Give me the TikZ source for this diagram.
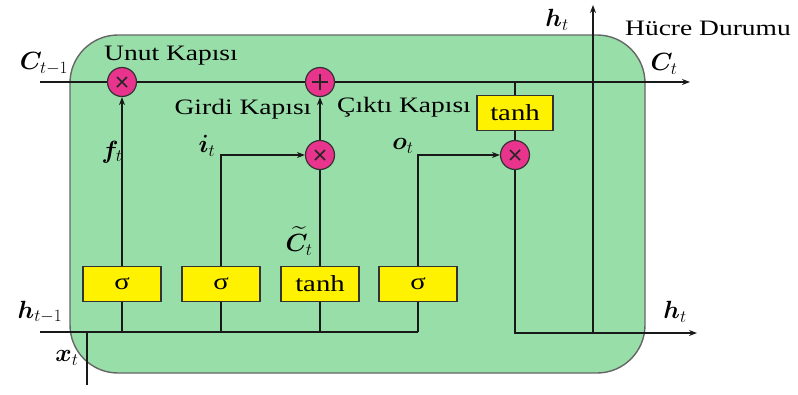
\documentclass[tikz,border=0pt]{standalone}
\usepackage{fontspec}
\usepackage{amsmath,bm}
\setmainfont{Liberation Serif}[FakeStretch=1.25]
\usetikzlibrary{arrows.meta}
\definecolor{cellgreen}{HTML}{98DEA9}
\definecolor{gatepink}{HTML}{E8348C}
\begin{document}
\begin{tikzpicture}[x=1pt,y=-1pt,
  wire/.style={line width=2.2pt, draw=black!90},
  arr/.style={-{Stealth[length=8pt,width=6pt]}},
  opbox/.style={draw=black!80, line width=1.5pt, fill=yellow, minimum width=78pt, minimum height=35pt, inner sep=0pt, font=\fontsize{23}{25}\selectfont},
  opcirc/.style={circle, draw=black!80, line width=1.2pt, fill=gatepink, minimum size=29pt, inner sep=0pt},
  multsym/.style={opcirc, path picture={\draw[line width=1.7pt, black!85]
      ([shift={(-5pt,-5pt)}]path picture bounding box.center) -- ([shift={(5pt,5pt)}]path picture bounding box.center)
      ([shift={(-5pt,5pt)}]path picture bounding box.center) -- ([shift={(5pt,-5pt)}]path picture bounding box.center);}},
  plussym/.style={opcirc, path picture={\draw[line width=1.7pt, black!85]
      ([shift={(-8pt,0pt)}]path picture bounding box.center) -- ([shift={(8pt,0pt)}]path picture bounding box.center)
      ([shift={(0pt,-8pt)}]path picture bounding box.center) -- ([shift={(0pt,8pt)}]path picture bounding box.center);}},
  lbl/.style={font=\fontsize{22}{24}\selectfont, inner sep=0pt},
  mlbl/.style={font=\fontsize{26}{30}\selectfont, inner sep=0pt}]
\useasboundingbox (0,0) rectangle (798,394);
% cell body
\draw[fill=cellgreen, draw=black!60, line width=1.4pt, rounded corners=48pt] (70,35) rectangle (645,373);
% coordinates
\coordinate (cin) at (40,82);
\coordinate (cout) at (690,82);
\coordinate (hin) at (40,332);
\coordinate (hend) at (418,332);
\coordinate (xtop) at (87,332);
\coordinate (xbot) at (87,385);
\coordinate (hcorner) at (515,333);
\coordinate (hsplit) at (593,333);
\coordinate (hout) at (697,333);
\coordinate (htop) at (593,5);
% operators
\node[multsym] (fx) at (122,82) {};
\node[plussym] (px) at (320,82) {};
\node[multsym] (ix) at (320,155) {};
\node[multsym] (ox) at (515,155) {};
\node[opbox] (s1) at (122,284) {σ};
\node[opbox] (s2) at (221,284) {σ};
\node[opbox] (t1) at (320,284) {tanh};
\node[opbox] (s3) at (418,284) {σ};
\node[opbox, minimum width=76pt] (t2) at (515,113) {tanh};
% wires
\draw[wire] (cin) -- (fx) -- (px);
\draw[wire,arr] (px) -- (cout);
\draw[wire] (t2 |- cin) -- (t2);
\draw[wire] (t2) -- (ox);
\draw[wire,arr] (ox) -- (hcorner) -- (hout);
\draw[wire,arr] (hsplit) -- (htop);
\draw[wire,arr] (s1) -- (fx);
\draw[wire,arr] (s2) |- (ix);
\draw[wire] (t1) -- (ix);
\draw[wire,arr] (ix) -- (px);
\draw[wire,arr] (s3) |- (ox);
\draw[wire] (hin) -- (hend);
\draw[wire] (s1) -- (s1 |- hin);
\draw[wire] (s2) -- (s2 |- hin);
\draw[wire] (t1) -- (t1 |- hin);
\draw[wire] (s3) -- (hend);
\draw[wire] (xtop) -- (xbot);
% labels
\node[mlbl] (lct1) at (44,64) {$\boldsymbol{C}_{t-1}$};
\node[lbl] (lunut) at (171,56) {Unut Kapısı};
\node[mlbl] (lft) at (112,152) {$\boldsymbol{f}_{t}$};
\node[lbl] (lgirdi) at (243,109) {Girdi Kapısı};
\node[mlbl] (lit) at (207,146) {$\boldsymbol{i}_{t}$};
\node[lbl] (lcikti) at (404,107) {Çıktı Kapısı};
\node[mlbl] (lot) at (403,146) {$\boldsymbol{o}_{t}$};
\node[mlbl] (lctil) at (299,241) {$\widetilde{\boldsymbol{C}}_{t}$};
\node[mlbl] (lht1) at (40,312) {$\boldsymbol{h}_{t-1}$};
\node[mlbl] (lxt) at (67,358) {$\boldsymbol{x}_{t}$};
\node[mlbl] (lhtop) at (557,20) {$\boldsymbol{h}_{t}$};
\node[lbl] (lhucre) at (708,28) {Hücre Durumu};
\node[mlbl] (lct) at (664,64) {$\boldsymbol{C}_{t}$};
\node[mlbl] (lhout) at (675,312) {$\boldsymbol{h}_{t}$};
\end{tikzpicture}
\end{document}
